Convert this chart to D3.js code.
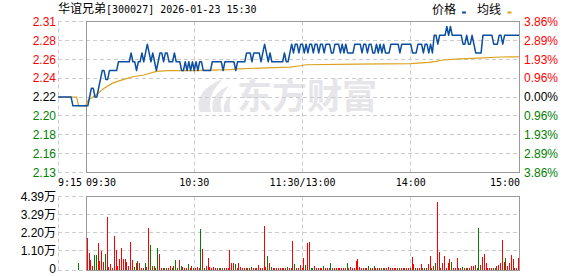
<!DOCTYPE html>
<html>
<head>
<meta charset="utf-8">
<script src="https://cdn.jsdelivr.net/npm/d3@7"></script>
<style>
  html, body { margin: 0; padding: 0; background: #fff; }
  svg { display: block; }
  text { font-family: "Liberation Sans", "Noto Sans CJK SC", sans-serif; font-size: 12px; }
  .cjk { font-family: "Noto Sans CJK SC", sans-serif; font-size: 12px; }
  .mono { font-family: "DejaVu Sans Mono", monospace; font-size: 10px; }
</style>
</head>
<body>
<div id="chart"></div>
<script>
// ---- data ----
const stockName = '华谊兄弟';
const stockCode = '300027';
const stamp = '2026-01-23 15:30';
const prevClose = 2.22;
const limitPct = 0.0386;

const priceLabels = ['2.31', '2.28', '2.26', '2.24', '2.22', '2.20', '2.18', '2.16', '2.13'];
const pctLabels = ['3.86%', '2.89%', '1.93%', '0.96%', '0.00%', '0.96%', '1.93%', '2.89%', '3.86%'];
const volLabels = ['4.39万', '3.29万', '2.20万', '1.10万', '0'];
const volMax = 4.39;

const timeLabels = ['9:15', '09:30', '10:30', '11:30/13:00', '14:00', '15:00'];
const timeMinutes = [-15, 0, 60, 120, 180, 240];

// call auction 9:15 - 9:30 (minutes before the open)
const preMinutes = [-15, -14, -13, -12, -11, -10, -9, -8, -7, -6, -5, -4, -3, -2, -1, 0];
const prePrice = [2.22, 2.22, 2.22, 2.22, 2.22, 2.22, 2.22, 2.22, 2.21, 2.21, 2.21, 2.21, 2.21, 2.21, 2.21, 2.21];
const preAvg = [2.22, 2.22, 2.22, 2.22, 2.22, 2.22, 2.22, 2.22, 2.22, 2.22, 2.22, 2.21, 2.21, 2.21, 2.21, 2.21];
const preVolMinute = -4;
const preVol = 0.38;

// one price per trading minute, 09:30 .. 15:00 (lunch collapsed)
const price = [
  2.21, 2.21, 2.22, 2.23, 2.23, 2.22, 2.22, 2.23, 2.24, 2.25,
  2.25, 2.24, 2.24, 2.25, 2.25, 2.25, 2.25, 2.25, 2.26, 2.26,
  2.26, 2.26, 2.26, 2.26, 2.26, 2.27, 2.26, 2.26, 2.25, 2.26,
  2.26, 2.27, 2.26, 2.27, 2.28, 2.27, 2.26, 2.27, 2.26, 2.25,
  2.26, 2.27, 2.27, 2.26, 2.27, 2.27, 2.26, 2.26, 2.26, 2.27,
  2.26, 2.26, 2.26, 2.25, 2.25, 2.26, 2.25, 2.26, 2.25, 2.26,
  2.25, 2.26, 2.25, 2.26, 2.26, 2.25, 2.25, 2.25, 2.25, 2.25,
  2.26, 2.26, 2.26, 2.26, 2.26, 2.26, 2.25, 2.26, 2.26, 2.26,
  2.26, 2.26, 2.26, 2.25, 2.26, 2.26, 2.26, 2.26, 2.26, 2.27,
  2.27, 2.27, 2.26, 2.27, 2.27, 2.27, 2.27, 2.26, 2.27, 2.28,
  2.27, 2.26, 2.27, 2.26, 2.26, 2.26, 2.26, 2.26, 2.26, 2.26,
  2.27, 2.26, 2.26, 2.27, 2.28, 2.27, 2.28, 2.28, 2.27, 2.28,
  2.28, 2.27, 2.28, 2.27, 2.28, 2.28, 2.27, 2.28, 2.28, 2.27,
  2.28, 2.28, 2.27, 2.28, 2.28, 2.28, 2.27, 2.27, 2.28, 2.28,
  2.28, 2.27, 2.28, 2.27, 2.28, 2.27, 2.27, 2.27, 2.27, 2.28,
  2.28, 2.28, 2.28, 2.27, 2.28, 2.28, 2.27, 2.28, 2.28, 2.27,
  2.27, 2.28, 2.27, 2.28, 2.27, 2.28, 2.27, 2.27, 2.27, 2.28,
  2.28, 2.28, 2.28, 2.28, 2.27, 2.28, 2.28, 2.28, 2.28, 2.28,
  2.28, 2.27, 2.27, 2.27, 2.28, 2.28, 2.28, 2.27, 2.28, 2.28,
  2.27, 2.28, 2.27, 2.29, 2.29, 2.28, 2.29, 2.29, 2.29, 2.29,
  2.30, 2.29, 2.30, 2.29, 2.29, 2.29, 2.29, 2.29, 2.29, 2.28,
  2.28, 2.29, 2.28, 2.28, 2.29, 2.28, 2.27, 2.27, 2.27, 2.27,
  2.29, 2.29, 2.29, 2.29, 2.29, 2.29, 2.28, 2.28, 2.28, 2.29,
  2.29, 2.28, 2.29, 2.29, 2.29, 2.29, 2.29, 2.29, 2.29, 2.29,
  2.29
];

// average price line, sampled where it visibly changes
const avgMinutes = [0, 1, 3, 6, 10, 15, 21, 26, 32, 39, 45, 60, 80, 84, 100, 113, 119, 122, 150, 180, 190, 194, 198, 205, 217, 230, 240];
const avgPrice = [2.211, 2.216, 2.219, 2.223, 2.230, 2.236, 2.240, 2.243, 2.245, 2.249, 2.250, 2.250, 2.251, 2.252, 2.253, 2.254, 2.2555, 2.2566, 2.2572, 2.2578, 2.2593, 2.2605, 2.262, 2.263, 2.2642, 2.2654, 2.2656];

// volume (万) for minutes 1..240, and its colour (r = up, g = down)
const volume = [
  1.87, 0.98, 0.54, 0.18, 0.84, 0.84, 1.57, 0.50, 1.08, 0.42,
  0.92, 3.17, 0.12, 0.32, 0.05, 1.97, 1.14, 0.18, 0.60, 1.27,
  0.60, 0.60, 0.44, 0.18, 1.63, 0.54, 0.12, 0.38, 0.48, 0.38,
  0.06, 0.06, 0.36, 0.12, 2.50, 1.43, 0.20, 0.18, 0.04, 1.25,
  0.92, 0.06, 0.06, 0.06, 0.06, 0.06, 0.16, 0.06, 0.16, 0.54,
  0.06, 0.54, 0.18, 0.12, 0.06, 0.06, 0.30, 0.06, 0.18, 0.06,
  0.06, 0.12, 0.06, 2.45, 1.20, 0.06, 0.18, 0.66, 0.12, 0.06,
  0.12, 0.06, 0.06, 0.06, 0.06, 0.06, 0.06, 0.06, 0.06, 1.14,
  0.36, 0.36, 0.30, 0.06, 0.36, 0.12, 0.06, 0.06, 0.06, 0.06,
  0.06, 0.12, 0.06, 0.06, 0.06, 0.24, 0.06, 0.06, 2.63, 0.12,
  0.78, 0.36, 0.12, 0.06, 0.06, 0.06, 0.06, 0.06, 0.06, 0.06,
  0.06, 0.12, 0.06, 0.06, 1.67, 0.30, 0.06, 0.06, 0.24, 0.06,
  0.68, 0.24, 1.55, 1.61, 0.06, 0.06, 0.18, 0.06, 0.06, 0.06,
  0.06, 0.18, 0.06, 0.06, 0.06, 0.36, 0.06, 0.06, 0.06, 0.06,
  0.06, 0.06, 0.06, 0.06, 0.36, 0.06, 0.12, 0.06, 0.06, 0.48,
  0.60, 0.12, 0.06, 0.06, 0.06, 0.06, 0.18, 0.06, 0.06, 0.18,
  0.06, 0.06, 0.06, 0.06, 0.06, 0.06, 0.06, 0.12, 0.06, 0.06,
  0.06, 0.06, 0.06, 0.06, 0.06, 0.06, 0.06, 0.06, 0.06, 0.06,
  0.72, 0.30, 0.06, 0.06, 0.06, 0.30, 0.06, 0.06, 0.06, 0.30,
  0.78, 0.06, 0.18, 0.36, 4.06, 1.02, 0.06, 0.36, 0.78, 0.06,
  0.36, 0.60, 0.42, 0.06, 0.06, 0.66, 0.06, 0.06, 0.12, 0.06,
  0.06, 0.06, 0.06, 0.18, 0.18, 0.24, 0.06, 2.51, 0.24, 0.72,
  0.90, 0.36, 0.06, 0.06, 0.06, 0.06, 0.06, 0.18, 0.24, 0.36,
  1.73, 0.42, 0.66, 0.18, 0.36, 0.84, 0.60, 0.06, 0.06, 0.66
];
const volSide = (
  'rrrrggrrrr' + 'grrrrrrrrr' + 'rrrrrrgrgr' + 'rrgrrgrgrg' +
  'rrrgrrrgrg' + 'grgrrrgrrg' + 'rrrgrgrrrr' + 'rrrgrgrrrr' +
  'rrgrrrrrgr' + 'rgrrrrrrrr' + 'grgrrrrrrr' + 'rgrrrgrrrr' +
  'rgrrggrrrr' + 'rgrrrgrrrr' + 'rrrrgrrrrr' + 'rrrrrrgrrg' +
  'rrrrgrrrrr' + 'rrrgrrrrrr' + 'rrgrrrrgrr' + 'rgrgrrrrrr' +
  'rrgrrrrrgr' + 'rgrrrrggrr' + 'rrrrrrgrrr' + 'rrgrrrrrrr'
).split('');

// ---- layout ----
const W = 578, H = 276;
const left = 58, open = 86, right = 519;
const priceTop = 21.5, priceBottom = 172.5;
const volTop = 196.5, volBottom = 270;

const colors = {
  up: '#ff0000', down: '#008000', flat: '#000000',
  price: '#0b4ea2', avg: '#dca21e',
  grid: '#cccccc', border: '#999999', mark: '#e6e6ea'
};

const svg = d3.select('#chart').append('svg')
  .attr('width', W)
  .attr('height', H);

// Scales: one time axis with the call auction squeezed in front of the open
const x = d3.scaleLinear().domain([-15, 0, 240]).range([left, open, right]);
const span = prevClose * limitPct;
const y = d3.scaleLinear().domain([prevClose - span, prevClose + span]).range([priceBottom, priceTop]);
const yv = d3.scaleLinear().domain([0, volMax]).range([269, volTop]);

const snap = v => Math.floor(v) + 0.5;
const levels = priceLabels.map((d, k) => prevClose + span * (4 - k) / 4);

// Watermark
const wm = svg.append('g').attr('fill', colors.mark);
wm.append('path').attr('d', 'M200,112 C195,98 204,86 223,79 C212,90 208,100 211,112 Z');
wm.append('path').attr('d', 'M213,112 C210,100 216,91 229,86 C221,95 219,103 222,112 Z');
wm.append('path').attr('d', 'M224,112 C223,104 226,98 232,95 C229,101 229,106 231,112 Z');
wm.append('text')
  .attr('x', 237)
  .attr('y', 109)
  .attr('class', 'cjk')
  .style('font-size', '35px')
  .style('font-weight', 'bold')
  .text('东方财富');

// Dashed grid
const grid = svg.append('g')
  .attr('stroke', colors.grid)
  .attr('stroke-dasharray', '4,3')
  .attr('fill', 'none');

levels.forEach(v => {
  grid.append('line')
    .attr('x1', left).attr('x2', right)
    .attr('y1', snap(y(v))).attr('y2', snap(y(v)));
});
volLabels.forEach((d, k) => {
  const yy = snap(k === volLabels.length - 1 ? volBottom : yv(volMax * (4 - k) / 4));
  grid.append('line')
    .attr('x1', left).attr('x2', right)
    .attr('y1', yy).attr('y2', yy);
});
[-15, 60, 120, 180].forEach(m => {
  grid.append('line')
    .attr('x1', snap(x(m))).attr('x2', snap(x(m)))
    .attr('y1', priceTop).attr('y2', priceBottom);
  grid.append('line')
    .attr('x1', snap(x(m))).attr('x2', snap(x(m)))
    .attr('y1', volTop).attr('y2', volBottom + 0.5);
});

// Solid frames of the trading session
svg.append('rect')
  .attr('x', snap(open)).attr('y', priceTop)
  .attr('width', snap(right) - snap(open)).attr('height', priceBottom - priceTop)
  .attr('fill', 'none').attr('stroke', colors.border);
svg.append('rect')
  .attr('x', snap(open)).attr('y', volTop)
  .attr('width', snap(right) - snap(open)).attr('height', volBottom + 0.5 - volTop)
  .attr('fill', 'none').attr('stroke', colors.border);

// Volume bars
const bars = volume.map((v, i) => ({ m: i + 1, v: v, side: volSide[i] }));
bars.unshift({ m: preVolMinute, v: preVol, side: 'g' });

svg.append('g').selectAll('rect')
  .data(bars)
  .join('rect')
  .attr('x', d => Math.round(x(d.m)) - 1)
  .attr('width', 1)
  .attr('y', d => Math.min(Math.round(yv(d.v)), volBottom - 1))
  .attr('height', d => volBottom - Math.min(Math.round(yv(d.v)), volBottom - 1))
  .attr('fill', d => d.side === 'g' ? colors.down : colors.up);

// Price and average lines
const line = d3.line().x(d => x(d[0])).y(d => y(d[1]));

svg.append('path')
  .datum(preMinutes.map((m, i) => [m, preAvg[i]]).concat(avgMinutes.map((m, i) => [m, avgPrice[i]])))
  .attr('d', line)
  .attr('fill', 'none')
  .attr('stroke', colors.avg)
  .attr('stroke-width', 1.2);

svg.append('path')
  .datum(preMinutes.map((m, i) => [m, prePrice[i]]).concat(price.map((p, i) => [i, p])))
  .attr('d', line)
  .attr('fill', 'none')
  .attr('stroke', colors.price)
  .attr('stroke-width', 1.5)
  .attr('stroke-linejoin', 'round');

// Left price labels and right percent labels
const sideColor = k => k < 4 ? colors.up : (k === 4 ? colors.flat : colors.down);

svg.append('g').selectAll('text')
  .data(priceLabels)
  .join('text')
  .attr('x', 56)
  .attr('y', (d, k) => y(levels[k]))
  .attr('dy', '0.36em')
  .attr('text-anchor', 'end')
  .attr('fill', (d, k) => sideColor(k))
  .text(d => d);

svg.append('g').selectAll('text')
  .data(pctLabels)
  .join('text')
  .attr('x', 524)
  .attr('y', (d, k) => y(levels[k]))
  .attr('dy', '0.36em')
  .attr('fill', (d, k) => sideColor(k))
  .text(d => d);

// Volume labels
svg.append('g').selectAll('text')
  .data(volLabels)
  .join('text')
  .attr('x', 56)
  .attr('y', (d, k) => yv(volMax * (4 - k) / 4))
  .attr('dy', '0.36em')
  .attr('text-anchor', 'end')
  .attr('fill', '#000')
  .text(d => d);

// Time labels
const timeAnchor = ['start', 'start', 'middle', 'middle', 'middle', 'end'];
svg.append('g').selectAll('text')
  .data(timeLabels)
  .join('text')
  .attr('class', 'mono')
  .attr('x', (d, k) => x(timeMinutes[k]) + (k === 5 ? 1 : 0))
  .attr('y', 186)
  .attr('text-anchor', (d, k) => timeAnchor[k])
  .attr('fill', '#000')
  .text(d => d);

// Title
const title = svg.append('text').attr('x', 58).attr('y', 13).attr('fill', '#000');
title.append('tspan').attr('class', 'cjk').text(stockName);
title.append('tspan').attr('class', 'mono').text(`[${stockCode}] ${stamp}`);

// Legend
svg.append('text').attr('class', 'cjk').attr('x', 432).attr('y', 14).text('价格');
svg.append('rect').attr('x', 462).attr('y', 11.5).attr('width', 4).attr('height', 2).attr('fill', colors.price);
svg.append('text').attr('class', 'cjk').attr('x', 477).attr('y', 14).text('均线');
svg.append('rect').attr('x', 507.5).attr('y', 11.5).attr('width', 4).attr('height', 2).attr('fill', colors.avg);
</script>
</body>
</html>
